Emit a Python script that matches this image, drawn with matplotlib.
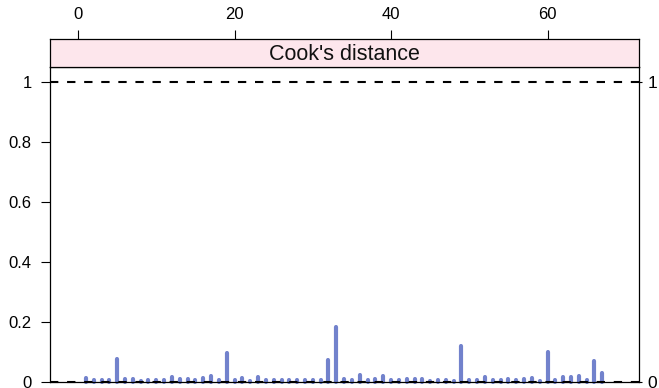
import matplotlib
matplotlib.use("Agg")
import matplotlib.pyplot as plt

plt.rcParams['font.family'] = ['Liberation Sans', 'DejaVu Sans']

# Data: Cook's distance per observation
obs = list(range(1, 68))
cooks = [0.011, 0.005, 0.004, 0.004, 0.074, 0.010, 0.008, 0.003, 0.004, 0.005,
         0.006, 0.015, 0.008, 0.007, 0.004, 0.013, 0.019, 0.004, 0.095, 0.004,
         0.011, 0.003, 0.016, 0.004, 0.005, 0.005, 0.006, 0.006, 0.004, 0.004,
         0.005, 0.073, 0.183, 0.007, 0.004, 0.022, 0.005, 0.009, 0.017, 0.004,
         0.004, 0.008, 0.008, 0.010, 0.003, 0.005, 0.004, 0.003, 0.117, 0.005,
         0.005, 0.016, 0.004, 0.005, 0.009, 0.004, 0.008, 0.012, 0.003, 0.098,
         0.005, 0.016, 0.015, 0.018, 0.004, 0.070, 0.029]
strip_label = "Cook's distance"
x_ticks = [0, 20, 40, 60]
y_ticks = [0, 0.2, 0.4, 0.6, 0.8, 1]
y_ticklabels = ["0", "0.2", "0.4", "0.6", "0.8", "1"]
right_ticks = [0, 1]
ref_lines = [0, 1]

W, H = 659, 388
fig = plt.figure(figsize=(W / 100, H / 100), dpi=100)

px_l, px_r = 49.5, 638.7
px_top_panel, px_bot_panel = 66.7, 381.5
px_strip_top = 39.3

ax = fig.add_axes([px_l / W, (H - px_bot_panel) / H,
                   (px_r - px_l) / W, (px_bot_panel - px_top_panel) / H])
sax = fig.add_axes([px_l / W, (H - px_top_panel) / H,
                    (px_r - px_l) / W, (px_top_panel - px_strip_top) / H])

xlim = (-3.65, 71.65)
ax.set_xlim(*xlim)
ax.set_ylim(0, 1.051)

bar_col = '#7282CC'
ax.vlines(obs, 0, cooks, colors=bar_col, linewidth=3.0, capstyle='round',
          clip_on=False, zorder=2)
for v in ref_lines:
    ax.axhline(v, color='black', linewidth=1.5, linestyle=(0, (4.0, 4.2)),
               zorder=3, clip_on=False)

ax.set_yticks(y_ticks)
ax.set_yticklabels(y_ticklabels)
ax.set_xticks([])
ax.tick_params(axis='y', which='both', left=True, right=False, direction='out',
               length=6.7, width=0.8, pad=6, labelsize=12)
for s in ax.spines.values():
    s.set_linewidth(0.9)

ay2 = ax.twinx()
ay2.set_ylim(ax.get_ylim())
ay2.set_yticks(right_ticks)
ay2.set_yticklabels([str(t) for t in right_ticks])
ay2.tick_params(axis='y', direction='out', length=2.5, width=0.8, pad=4,
                labelsize=12.5)
for s in ay2.spines.values():
    s.set_visible(False)

# strip
sax.set_xlim(*xlim)
sax.set_ylim(0, 1)
sax.set_facecolor('#FDE6EC')
sax.text(0.5, 0.45, strip_label, transform=sax.transAxes, ha='center',
         va='center', fontsize=15.5, color='#111111')
sax.set_yticks([])
sax.set_xticks(x_ticks)
sax.xaxis.set_ticks_position('top')
sax.tick_params(axis='x', direction='out', length=6.3, width=0.8, pad=6.5,
                labelsize=12, bottom=False, top=True, labeltop=True,
                labelbottom=False)
for s in sax.spines.values():
    s.set_linewidth(0.9)

fig.savefig('out.png', dpi=100)
